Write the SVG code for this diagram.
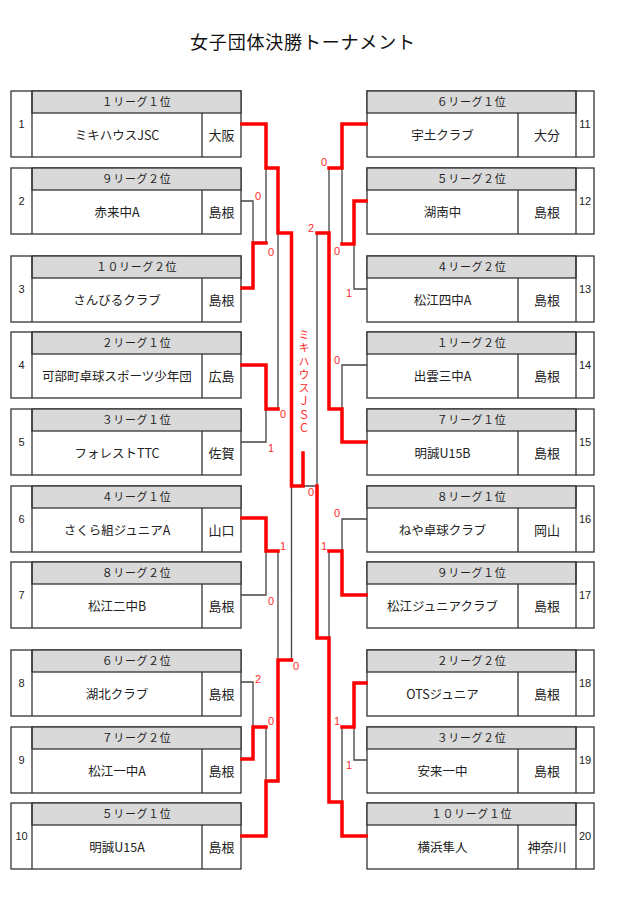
<svg xmlns="http://www.w3.org/2000/svg" width="617" height="903" viewBox="0 0 617 903">
<style>
text{font-family:"Noto Sans CJK JP","Liberation Sans",sans-serif;fill:#222}
.box{fill:#fff;stroke:#333;stroke-width:1.3}
.hdr{fill:#d9d9d9;stroke:#333;stroke-width:1.3}
.ln{stroke:#333;stroke-width:1.3}
.h{font-size:11px;text-anchor:middle;letter-spacing:0.6px}
.n{font-size:12.5px;text-anchor:middle}
.p{font-size:13px;text-anchor:middle}
.num{font-size:11px;text-anchor:middle;font-family:"Liberation Sans",sans-serif}
.s{font-size:11px;text-anchor:middle;fill:#ff2a2a;font-family:"Liberation Sans",sans-serif}
.bk{fill:none;stroke:#444;stroke-width:1.3}
.rd{fill:none;stroke:#ff0000;stroke-width:3.5;stroke-linejoin:miter;stroke-linecap:square}
.ch{font-size:11px;fill:#ff2a2a;writing-mode:vertical-rl;text-orientation:upright;letter-spacing:2.3px}
</style>
<rect width="617" height="903" fill="#fff"/>
<text x="302.5" y="49" font-size="18" text-anchor="middle" textLength="225" lengthAdjust="spacing" style="fill:#111">女子団体決勝トーナメント</text>

<!-- left teams -->
<g id="team1"><rect class="box" x="11" y="91" width="230" height="66"/><rect class="hdr" x="32" y="91" width="209" height="22"/><line class="ln" x1="32" y1="91" x2="32" y2="157"/><line class="ln" x1="202" y1="113" x2="202" y2="157"/>
<text class="num" x="21.5" y="128">1</text><text class="h" x="136.5" y="106">１リーグ１位</text><text class="n" x="117" y="139.5">ミキハウスJSC</text><text class="p" x="221.5" y="139.5">大阪</text></g>
<g id="team2"><rect class="box" x="11" y="168" width="230" height="66"/><rect class="hdr" x="32" y="168" width="209" height="22"/><line class="ln" x1="32" y1="168" x2="32" y2="234"/><line class="ln" x1="202" y1="190" x2="202" y2="234"/>
<text class="num" x="21.5" y="205">2</text><text class="h" x="136.5" y="183">９リーグ２位</text><text class="n" x="117" y="216.5">赤来中A</text><text class="p" x="221.5" y="216.5">島根</text></g>
<g id="team3"><rect class="box" x="11" y="256" width="230" height="66"/><rect class="hdr" x="32" y="256" width="209" height="22"/><line class="ln" x1="32" y1="256" x2="32" y2="322"/><line class="ln" x1="202" y1="278" x2="202" y2="322"/>
<text class="num" x="21.5" y="293">3</text><text class="h" x="136.5" y="271">１０リーグ２位</text><text class="n" x="117" y="304.5">さんびるクラブ</text><text class="p" x="221.5" y="304.5">島根</text></g>
<g id="team4"><rect class="box" x="11" y="332" width="230" height="66"/><rect class="hdr" x="32" y="332" width="209" height="22"/><line class="ln" x1="32" y1="332" x2="32" y2="398"/><line class="ln" x1="202" y1="354" x2="202" y2="398"/>
<text class="num" x="21.5" y="369">4</text><text class="h" x="136.5" y="347">２リーグ１位</text><text class="n" x="117" y="380.5">可部町卓球スポーツ少年団</text><text class="p" x="221.5" y="380.5">広島</text></g>
<g id="team5"><rect class="box" x="11" y="409" width="230" height="66"/><rect class="hdr" x="32" y="409" width="209" height="22"/><line class="ln" x1="32" y1="409" x2="32" y2="475"/><line class="ln" x1="202" y1="431" x2="202" y2="475"/>
<text class="num" x="21.5" y="446">5</text><text class="h" x="136.5" y="424">３リーグ１位</text><text class="n" x="117" y="457.5">フォレストTTC</text><text class="p" x="221.5" y="457.5">佐賀</text></g>
<g id="team6"><rect class="box" x="11" y="486" width="230" height="66"/><rect class="hdr" x="32" y="486" width="209" height="22"/><line class="ln" x1="32" y1="486" x2="32" y2="552"/><line class="ln" x1="202" y1="508" x2="202" y2="552"/>
<text class="num" x="21.5" y="523">6</text><text class="h" x="136.5" y="501">４リーグ１位</text><text class="n" x="117" y="534.5">さくら組ジュニアA</text><text class="p" x="221.5" y="534.5">山口</text></g>
<g id="team7"><rect class="box" x="11" y="562" width="230" height="66"/><rect class="hdr" x="32" y="562" width="209" height="22"/><line class="ln" x1="32" y1="562" x2="32" y2="628"/><line class="ln" x1="202" y1="584" x2="202" y2="628"/>
<text class="num" x="21.5" y="599">7</text><text class="h" x="136.5" y="577">８リーグ２位</text><text class="n" x="117" y="610.5">松江二中B</text><text class="p" x="221.5" y="610.5">島根</text></g>
<g id="team8"><rect class="box" x="11" y="650" width="230" height="66"/><rect class="hdr" x="32" y="650" width="209" height="22"/><line class="ln" x1="32" y1="650" x2="32" y2="716"/><line class="ln" x1="202" y1="672" x2="202" y2="716"/>
<text class="num" x="21.5" y="687">8</text><text class="h" x="136.5" y="665">６リーグ２位</text><text class="n" x="117" y="698.5">湖北クラブ</text><text class="p" x="221.5" y="698.5">島根</text></g>
<g id="team9"><rect class="box" x="11" y="727" width="230" height="66"/><rect class="hdr" x="32" y="727" width="209" height="22"/><line class="ln" x1="32" y1="727" x2="32" y2="793"/><line class="ln" x1="202" y1="749" x2="202" y2="793"/>
<text class="num" x="21.5" y="764">9</text><text class="h" x="136.5" y="742">７リーグ２位</text><text class="n" x="117" y="775.5">松江一中A</text><text class="p" x="221.5" y="775.5">島根</text></g>
<g id="team10"><rect class="box" x="11" y="803" width="230" height="66"/><rect class="hdr" x="32" y="803" width="209" height="22"/><line class="ln" x1="32" y1="803" x2="32" y2="869"/><line class="ln" x1="202" y1="825" x2="202" y2="869"/>
<text class="num" x="21.5" y="840">10</text><text class="h" x="136.5" y="818">５リーグ１位</text><text class="n" x="117" y="851.5">明誠U15A</text><text class="p" x="221.5" y="851.5">島根</text></g>

<!-- right teams -->
<g id="team11"><rect class="box" x="367" y="91" width="227" height="66"/><rect class="hdr" x="367" y="91" width="209" height="22"/><line class="ln" x1="576" y1="91" x2="576" y2="157"/><line class="ln" x1="518" y1="113" x2="518" y2="157"/>
<text class="num" x="585" y="128">11</text><text class="h" x="471.5" y="106">６リーグ１位</text><text class="n" x="442.5" y="139.5">宇土クラブ</text><text class="p" x="547" y="139.5">大分</text></g>
<g id="team12"><rect class="box" x="367" y="168" width="227" height="66"/><rect class="hdr" x="367" y="168" width="209" height="22"/><line class="ln" x1="576" y1="168" x2="576" y2="234"/><line class="ln" x1="518" y1="190" x2="518" y2="234"/>
<text class="num" x="585" y="205">12</text><text class="h" x="471.5" y="183">５リーグ２位</text><text class="n" x="442.5" y="216.5">湖南中</text><text class="p" x="547" y="216.5">島根</text></g>
<g id="team13"><rect class="box" x="367" y="256" width="227" height="66"/><rect class="hdr" x="367" y="256" width="209" height="22"/><line class="ln" x1="576" y1="256" x2="576" y2="322"/><line class="ln" x1="518" y1="278" x2="518" y2="322"/>
<text class="num" x="585" y="293">13</text><text class="h" x="471.5" y="271">４リーグ２位</text><text class="n" x="442.5" y="304.5">松江四中A</text><text class="p" x="547" y="304.5">島根</text></g>
<g id="team14"><rect class="box" x="367" y="332" width="227" height="66"/><rect class="hdr" x="367" y="332" width="209" height="22"/><line class="ln" x1="576" y1="332" x2="576" y2="398"/><line class="ln" x1="518" y1="354" x2="518" y2="398"/>
<text class="num" x="585" y="369">14</text><text class="h" x="471.5" y="347">１リーグ２位</text><text class="n" x="442.5" y="380.5">出雲三中A</text><text class="p" x="547" y="380.5">島根</text></g>
<g id="team15"><rect class="box" x="367" y="409" width="227" height="66"/><rect class="hdr" x="367" y="409" width="209" height="22"/><line class="ln" x1="576" y1="409" x2="576" y2="475"/><line class="ln" x1="518" y1="431" x2="518" y2="475"/>
<text class="num" x="585" y="446">15</text><text class="h" x="471.5" y="424">７リーグ１位</text><text class="n" x="442.5" y="457.5">明誠U15B</text><text class="p" x="547" y="457.5">島根</text></g>
<g id="team16"><rect class="box" x="367" y="486" width="227" height="66"/><rect class="hdr" x="367" y="486" width="209" height="22"/><line class="ln" x1="576" y1="486" x2="576" y2="552"/><line class="ln" x1="518" y1="508" x2="518" y2="552"/>
<text class="num" x="585" y="523">16</text><text class="h" x="471.5" y="501">８リーグ１位</text><text class="n" x="442.5" y="534.5">ねや卓球クラブ</text><text class="p" x="547" y="534.5">岡山</text></g>
<g id="team17"><rect class="box" x="367" y="562" width="227" height="66"/><rect class="hdr" x="367" y="562" width="209" height="22"/><line class="ln" x1="576" y1="562" x2="576" y2="628"/><line class="ln" x1="518" y1="584" x2="518" y2="628"/>
<text class="num" x="585" y="599">17</text><text class="h" x="471.5" y="577">９リーグ１位</text><text class="n" x="442.5" y="610.5">松江ジュニアクラブ</text><text class="p" x="547" y="610.5">島根</text></g>
<g id="team18"><rect class="box" x="367" y="650" width="227" height="66"/><rect class="hdr" x="367" y="650" width="209" height="22"/><line class="ln" x1="576" y1="650" x2="576" y2="716"/><line class="ln" x1="518" y1="672" x2="518" y2="716"/>
<text class="num" x="585" y="687">18</text><text class="h" x="471.5" y="665">２リーグ２位</text><text class="n" x="442.5" y="698.5">OTSジュニア</text><text class="p" x="547" y="698.5">島根</text></g>
<g id="team19"><rect class="box" x="367" y="727" width="227" height="66"/><rect class="hdr" x="367" y="727" width="209" height="22"/><line class="ln" x1="576" y1="727" x2="576" y2="793"/><line class="ln" x1="518" y1="749" x2="518" y2="793"/>
<text class="num" x="585" y="764">19</text><text class="h" x="471.5" y="742">３リーグ２位</text><text class="n" x="442.5" y="775.5">安来一中</text><text class="p" x="547" y="775.5">島根</text></g>
<g id="team20"><rect class="box" x="367" y="803" width="227" height="66"/><rect class="hdr" x="367" y="803" width="209" height="22"/><line class="ln" x1="576" y1="803" x2="576" y2="869"/><line class="ln" x1="518" y1="825" x2="518" y2="869"/>
<text class="num" x="585" y="840">20</text><text class="h" x="471.5" y="818">１０リーグ１位</text><text class="n" x="442.5" y="851.5">横浜隼人</text><text class="p" x="547" y="851.5">神奈川</text></g>

<g id="connectors">
<path class="bk" d="M241,201H253V243 M266,168V243 M278,233V409 M241,442H266V409 M241,595H266V551 M278,551V660 M291.5,486V660 M241,682H253V727 M266,727V781"/>
<path class="bk" d="M367,289H354V244 M342,168V244 M329,168V233 M367,365H342V409 M317,233V486H303 M367,519H342V551 M329,551V638 M367,760H354V727 M342,727V802"/>
<path class="rd" d="M242,124H266V168H278V233H291.5V486H303V453"/>
<path class="rd" d="M242,288H253V243H266"/>
<path class="rd" d="M242,365H266V409H278"/>
<path class="rd" d="M242,518H266V551H278"/>
<path class="rd" d="M242,759H253V727H266"/>
<path class="rd" d="M242,836H266V781H278V660H291.5"/>
<path class="rd" d="M366,124H342V168H329"/>
<path class="rd" d="M366,201H354V244H342"/>
<path class="rd" d="M366,442H342V409H329V233H317"/>
<path class="rd" d="M366,595H342V551H329"/>
<path class="rd" d="M366,683H354V727H342"/>
<path class="rd" d="M366,836H342V802H329V638H317V486"/>
</g>

<g id="scores">
<text class="s" x="258" y="200">0</text>
<text class="s" x="271" y="256">0</text>
<text class="s" x="283" y="418">0</text>
<text class="s" x="271" y="452">1</text>
<text class="s" x="283" y="550">1</text>
<text class="s" x="271" y="605">0</text>
<text class="s" x="258" y="683">2</text>
<text class="s" x="271" y="725">0</text>
<text class="s" x="296" y="670">0</text>
<text class="s" x="311" y="496">0</text>
<text class="s" x="324" y="166">0</text>
<text class="s" x="311" y="232">2</text>
<text class="s" x="337" y="255">0</text>
<text class="s" x="349" y="297">1</text>
<text class="s" x="337" y="364">0</text>
<text class="s" x="337" y="517">0</text>
<text class="s" x="324" y="550">1</text>
<text class="s" x="337" y="725">1</text>
<text class="s" x="349" y="769">1</text>
</g>

<g id="champion">
<text class="ch" x="304" y="329.5">ミキハウスＪＳＣ</text>
</g>
</svg>
